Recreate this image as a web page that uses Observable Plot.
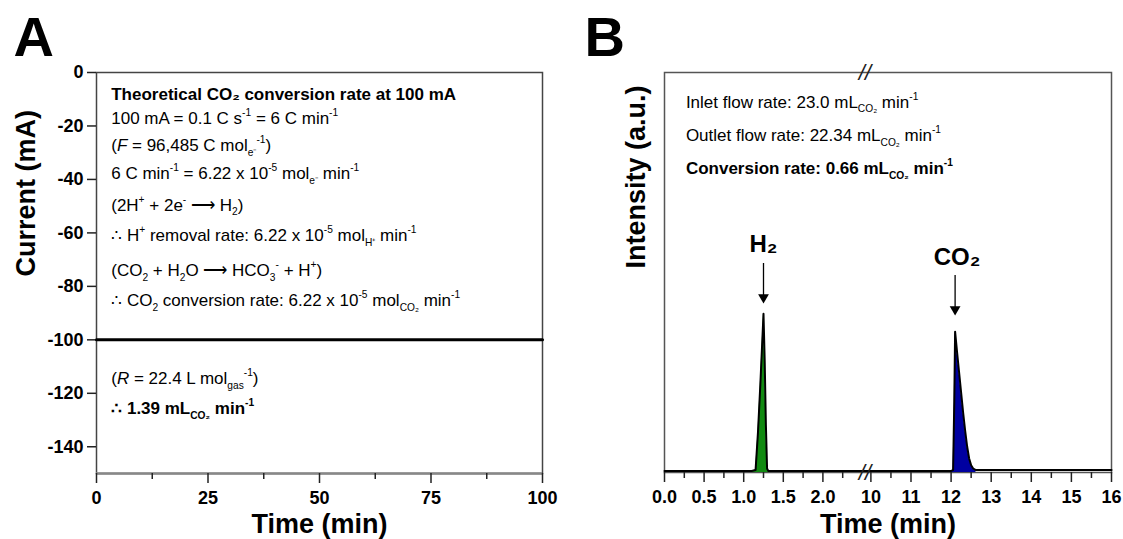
<!DOCTYPE html>
<html>
<head>
<meta charset="utf-8">
<script src="https://cdn.jsdelivr.net/npm/d3@7"></script>
<script src="https://cdn.jsdelivr.net/npm/@observablehq/plot@0.6"></script>
<style>
  html, body { margin: 0; padding: 0; background: #fff; }
  #wrap { display: flex; width: 1123px; height: 539px; overflow: hidden; }
  svg text { white-space: pre; }
</style>
</head>
<body>
<div id="wrap"></div>
<script>
// ---------------- Panel A data ----------------
const aTime = [0, 100];
const aCurrent = [-100, -100];
const aXTicks = [0, 25, 50, 75, 100];
const aXMinor = [12.5, 37.5, 62.5, 87.5];
const aYTicks = [0, -20, -40, -60, -80, -100, -120, -140];
const aNotes = [
  "Theoretical CO₂ conversion rate at 100 mA",
  "100 mA = 0.1 C s^{-1} = 6 C min^{-1}",
  "(~{F} = 96,485 C mol_{e⁻}^{-1})",
  "6 C min^{-1} = 6.22 x 10^{-5} mol_{e⁻} min^{-1}",
  "(2H^{+} + 2e^{-} ⟶ H_{2})",
  "∴ H^{+} removal rate: 6.22 x 10^{-5} mol_{H⁺} min^{-1}",
  "(CO_{2} + H_{2}O ⟶ HCO_{3}^{-} + H^{+})",
  "∴ CO_{2} conversion rate: 6.22 x 10^{-5} mol_{CO₂} min^{-1}",
  "(~{R} = 22.4 L mol_{gas}^{-1})",
  "∴ 1.39 mL_{CO₂} min^{-1}"
];
const aNoteY = [-8.2, -17.2, -27.3, -37.8, -49.6, -61.0, -74.1, -85.3, -114.5, -125.7];
const aNoteBold = [true, false, false, false, false, false, false, false, false, true];
const aNoteX = 3.3;

// ---------------- Panel B data ----------------
const bTime = [0, 1.10, 1.15, 1.18, 1.21, 1.235, 1.25, 1.265, 1.28, 1.295, 1.31, 1.35, 2.53,
               9.85, 12.0, 12.05, 12.08, 12.1, 12.15, 12.2, 12.25, 12.3, 12.35, 12.4, 12.45, 12.5, 12.55, 12.62, 16];
const bIntensity = [0.4, 0.4, 0.6, 10, 22, 33, 39.7, 28, 12, 1, 0.4, 0.4, 0.4,
                    0.4, 0.4, 0.6, 18, 35.2, 30, 25, 20, 15, 10.5, 6.5, 3.5, 1.8, 1.0, 0.6, 0.6];
const bMajorTicks = [0, 0.5, 1, 1.5, 2, 10, 11, 12, 13, 14, 15, 16];
const bMinorTicks = [0.25, 0.75, 1.25, 1.75, 2.25, 10.5, 11.5, 12.5, 13.5, 14.5, 15.5];
const bNotes = [
  "Inlet flow rate: 23.0 mL_{CO₂} min^{-1}",
  "Outlet flow rate: 22.34 mL_{CO₂} min^{-1}",
  "Conversion rate: 0.66 mL_{CO₂} min^{-1}"
];
const bNoteY = [92.6, 84.2, 76.0];
const bNoteBold = [false, false, true];
const bNoteX = 0.27;
const peakNames = ["H₂", "CO₂"];
const peakLabelTime = [1.25, 12.15];
const peakLabelY = [57, 53.75];
const arrowTime = [1.25, 12.1];
const arrowTop = [52.25, 49.25];
const arrowTip = [42.25, 39.25];
const h2Range = [1.10, 1.35];
const co2Range = [11.99, 12.63];

// broken axis: 0–2.53 min, then 9.85–16 min
const brkAt = 2.53, brkResume = 9.85, leftK = 1.975;
const brk = t => t <= brkAt ? t * leftK : brkAt * leftK + (t - brkResume);

const FONT = "'Liberation Sans', Arial, Helvetica, sans-serif";
const idx = arr => d3.range(arr.length);
const noText = () => "";

// ---------------- Panel A ----------------
const plotA = Plot.plot({
  width: 560, height: 539,
  marginLeft: 96, marginRight: 18, marginTop: 72, marginBottom: 66,
  style: {fontFamily: FONT, fontSize: "16px", color: "black", background: "white", overflow: "visible"},
  x: {domain: [0, 100], axis: null},
  y: {domain: [-150, 0], axis: null},
  marks: [
    Plot.frame({stroke: "#444", strokeWidth: 1.5}),
    Plot.ruleY([-150], {stroke: "#888", strokeWidth: 2.5}),
    Plot.axisX(aXMinor, {anchor: "bottom", tickSize: 6, strokeWidth: 1.5, stroke: "#222", tickFormat: noText, label: null}),
    Plot.axisX(aXTicks, {anchor: "bottom", tickSize: 10, tickPadding: 8, strokeWidth: 1.5, stroke: "#222",
      tickFormat: d => String(d), fontSize: 18, fontWeight: "bold", label: null}),
    Plot.axisY(aYTicks, {anchor: "left", tickSize: 9, tickPadding: 4, strokeWidth: 1.5, stroke: "#222",
      tickFormat: d => String(d), fontSize: 18, fontWeight: "bold", label: null}),
    Plot.line(idx(aTime), {x: i => aTime[i], y: i => aCurrent[i], stroke: "black", strokeWidth: 3}),
    Plot.text(idx(aNotes), {filter: i => !aNoteBold[i], x: () => aNoteX, y: i => aNoteY[i], text: i => aNotes[i],
      textAnchor: "start", fontSize: 17, fill: "black"}),
    Plot.text(idx(aNotes), {filter: i => aNoteBold[i], x: () => aNoteX, y: i => aNoteY[i], text: i => aNotes[i],
      textAnchor: "start", fontSize: 17, fontWeight: "bold", fill: "black"}),
    Plot.text(["A"], {frameAnchor: "top-left", dx: -83, dy: -34, textAnchor: "start", lineAnchor: "middle", fontSize: 56, fontWeight: "bold"}),
    Plot.text(["Current (mA)"], {frameAnchor: "left", dx: -70, dy: 3.5, rotate: -90, fontSize: 27, fontWeight: "bold"}),
    Plot.text(["Time (min)"], {frameAnchor: "bottom", lineAnchor: "middle", dy: 51, fontSize: 27, fontWeight: "bold"})
  ]
});

// ---------------- Panel B ----------------
const plotB = Plot.plot({
  width: 563, height: 539,
  marginLeft: 104, marginRight: 12, marginTop: 72, marginBottom: 67,
  style: {fontFamily: FONT, fontSize: "16px", color: "black", background: "white", overflow: "visible"},
  x: {domain: [brk(0), brk(16)], transform: brk, axis: null},
  y: {domain: [0, 100], axis: null},
  marks: [
    Plot.frame({stroke: "#555", strokeWidth: 1.5}),
    Plot.areaY(idx(bTime), {filter: i => bTime[i] >= h2Range[0] && bTime[i] <= h2Range[1],
      x: i => bTime[i], y: i => bIntensity[i], fill: "#118a11"}),
    Plot.areaY(idx(bTime), {filter: i => bTime[i] >= co2Range[0] && bTime[i] <= co2Range[1],
      x: i => bTime[i], y: i => bIntensity[i], fill: "#0000a0"}),
    Plot.line(idx(bTime), {x: i => bTime[i], y: i => bIntensity[i], stroke: "black", strokeWidth: 2}),
    Plot.axisX(bMinorTicks, {anchor: "bottom", tickSize: 6, strokeWidth: 1.5, stroke: "#222", tickFormat: noText, label: null}),
    Plot.axisX(bMajorTicks, {anchor: "bottom", tickSize: 10, tickPadding: 8, strokeWidth: 1.5, stroke: "#222",
      tickFormat: d => d < 5 ? d.toFixed(1) : String(d), fontSize: 18, fontWeight: "bold", label: null}),
    Plot.text(["//"], {x: () => brkAt, frameAnchor: "top", lineAnchor: "middle", fontSize: 22, fontStyle: "italic", fill: "#222"}),
    Plot.text(["//"], {x: () => brkAt, frameAnchor: "bottom", lineAnchor: "middle", fontSize: 22, fontStyle: "italic", fill: "#222"}),
    Plot.ruleX(idx(arrowTime), {x: i => arrowTime[i], y1: i => arrowTop[i], y2: i => arrowTip[i] + 2, stroke: "black", strokeWidth: 1.3}),
    Plot.dot(idx(arrowTime), {x: i => arrowTime[i], y: i => arrowTip[i] + 1.55, symbol: "triangle", rotate: 180, r: 4, fill: "black", stroke: "none"}),
    Plot.text(idx(peakNames), {x: i => peakLabelTime[i], y: i => peakLabelY[i], text: i => peakNames[i], fontSize: 24, fontWeight: "bold"}),
    Plot.text(idx(bNotes), {filter: i => !bNoteBold[i], x: () => bNoteX, y: i => bNoteY[i], text: i => bNotes[i],
      textAnchor: "start", fontSize: 17}),
    Plot.text(idx(bNotes), {filter: i => bNoteBold[i], x: () => bNoteX, y: i => bNoteY[i], text: i => bNotes[i],
      textAnchor: "start", fontSize: 17, fontWeight: "bold"}),
    Plot.text(["B"], {frameAnchor: "top-left", dx: -80, dy: -34, textAnchor: "start", lineAnchor: "middle", fontSize: 56, fontWeight: "bold"}),
    Plot.text(["Intensity (a.u.)"], {frameAnchor: "left", dx: -28, dy: -4, rotate: -90, fontSize: 27, fontWeight: "bold"}),
    Plot.text(["Time (min)"], {frameAnchor: "bottom", lineAnchor: "middle", dy: 52, fontSize: 27, fontWeight: "bold"})
  ]
});

const wrap = document.getElementById("wrap");
wrap.appendChild(plotA);
wrap.appendChild(plotB);

// rich text: _{sub}, ^{sup}, ~{italic}
function parseRich(s) {
  const segs = []; let buf = ""; let i = 0;
  while (i < s.length) {
    const c = s[i];
    if ((c === "_" || c === "^" || c === "~") && s[i + 1] === "{") {
      if (buf) { segs.push({t: buf, k: "n"}); buf = ""; }
      const j = s.indexOf("}", i + 2);
      segs.push({t: s.slice(i + 2, j), k: c});
      i = j + 1;
    } else { buf += c; i++; }
  }
  if (buf) segs.push({t: buf, k: "n"});
  return segs;
}
function richify(svg) {
  svg.querySelectorAll("text").forEach(t => {
    const s = t.textContent;
    if (!/[_^~]\{/.test(s)) return;
    const fs = parseFloat(getComputedStyle(t).fontSize) || 16;
    t.textContent = "";
    let cur = 0;
    for (const seg of parseRich(s)) {
      const ts = document.createElementNS("http://www.w3.org/2000/svg", "tspan");
      let off = 0;
      if (seg.k === "_") { off = 0.28 * fs; ts.setAttribute("font-size", (0.6 * fs) + "px"); }
      else if (seg.k === "^") { off = -0.45 * fs; ts.setAttribute("font-size", (0.6 * fs) + "px"); }
      else if (seg.k === "~") { ts.setAttribute("font-style", "italic"); }
      const dy = off - cur;
      if (Math.abs(dy) > 1e-6) ts.setAttribute("dy", dy.toFixed(2));
      cur = off;
      ts.textContent = seg.t;
      t.appendChild(ts);
    }
  });
}
richify(plotA);
richify(plotB);
</script>
</body>
</html>
